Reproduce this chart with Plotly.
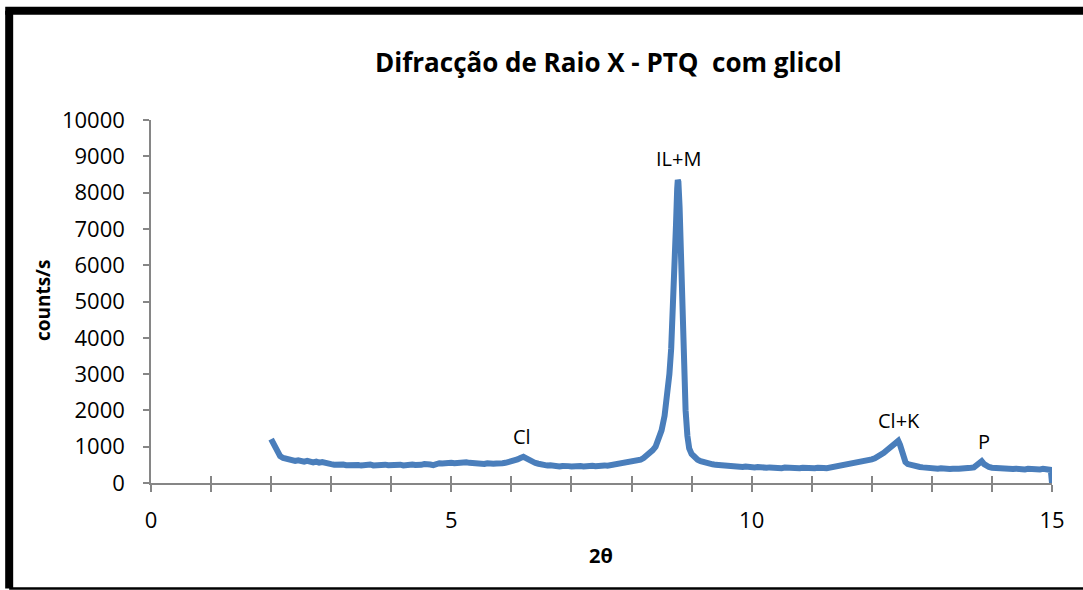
import plotly.graph_objects as go

two_theta = [
    2.00, 2.05, 2.10, 2.15, 2.20, 2.25, 2.30, 2.35, 2.40, 2.45, 2.50, 2.55, 2.60, 2.65, 2.70, 2.75, 2.80, 2.85, 2.90, 2.95,
    3.00, 3.05, 3.10, 3.15, 3.20, 3.25, 3.30, 3.35, 3.40, 3.45, 3.50, 3.55, 3.60, 3.65, 3.70, 3.75, 3.80, 3.85, 3.90, 3.95,
    4.00, 4.05, 4.10, 4.15, 4.20, 4.25, 4.30, 4.35, 4.40, 4.45, 4.50, 4.55, 4.60, 4.65, 4.70, 4.75, 4.80, 4.85, 4.90, 4.95,
    5.00, 5.05, 5.10, 5.15, 5.20, 5.25, 5.30, 5.35, 5.40, 5.45, 5.50, 5.55, 5.60, 5.65, 5.70, 5.75, 5.80, 5.85, 5.90, 5.95,
    6.00, 6.05, 6.10, 6.15, 6.20, 6.25, 6.30, 6.35, 6.40, 6.45, 6.50, 6.55, 6.60, 6.65, 6.70, 6.75, 6.80, 6.85, 6.90, 6.95,
    7.00, 7.05, 7.10, 7.15, 7.20, 7.25, 7.30, 7.35, 7.40, 7.45, 7.50, 7.55, 7.60, 7.65, 7.70, 7.75, 7.80, 7.85, 7.90, 7.95,
    8.00, 8.05, 8.10, 8.15, 8.20, 8.25, 8.30, 8.35, 8.40, 8.45, 8.50, 8.55, 8.60, 8.63, 8.66, 8.69, 8.72, 8.74, 8.76, 8.77,
    8.78, 8.80, 8.82, 8.84, 8.87, 8.90, 8.93, 8.96, 9.00, 9.05, 9.10, 9.15, 9.20, 9.25, 9.30, 9.35, 9.40, 9.45, 9.50, 9.55,
    9.60, 9.65, 9.70, 9.75, 9.80, 9.85, 9.90, 9.95, 10.00, 10.05, 10.10, 10.15, 10.20, 10.25, 10.30, 10.35, 10.40, 10.45,
    10.50, 10.55, 10.60, 10.65, 10.70, 10.75, 10.80, 10.85, 10.90, 10.95, 11.00, 11.05, 11.10, 11.15, 11.20, 11.25, 11.30,
    11.35, 11.40, 11.45, 11.50, 11.55, 11.60, 11.65, 11.70, 11.75, 11.80, 11.85, 11.90, 11.95, 12.00, 12.05, 12.10, 12.15,
    12.20, 12.25, 12.30, 12.35, 12.40, 12.44, 12.47, 12.50, 12.53, 12.56, 12.60, 12.65, 12.70, 12.75, 12.80, 12.85, 12.90,
    12.95, 13.00, 13.05, 13.10, 13.15, 13.20, 13.25, 13.30, 13.35, 13.40, 13.45, 13.50, 13.55, 13.60, 13.65, 13.70, 13.75,
    13.80, 13.83, 13.87, 13.90, 13.95, 14.00, 14.05, 14.10, 14.15, 14.20, 14.25, 14.30, 14.35, 14.40, 14.45, 14.50, 14.55,
    14.60, 14.65, 14.70, 14.75, 14.80, 14.85, 14.90, 14.95, 14.98, 15.00,
]

counts = [
    1210, 1020, 860, 740, 690, 660, 640, 620, 610, 625, 600, 590, 610, 580, 570, 590, 560, 575, 545, 530,
    520, 505, 515, 495, 510, 490, 500, 485, 505, 495, 480, 500, 490, 510, 485, 495, 500, 480, 505, 490,
    500, 480, 495, 505, 485, 500, 490, 510, 495, 480, 500, 520, 495, 510, 490, 530, 545, 535, 550, 540,
    555, 545, 560, 580, 560, 570, 555, 545, 555, 535, 540, 525, 545, 520, 530, 540, 525, 545, 555, 570,
    580, 610, 650, 690, 720, 680, 620, 580, 550, 530, 505, 495, 480, 490, 465, 470, 455, 470, 450, 465,
    455, 470, 450, 465, 455, 470, 460, 475, 465, 480, 470, 485, 475, 490, 495, 505, 500, 520, 530, 545,
    560, 580, 600, 640, 690, 750, 820, 900, 1000, 1200, 1450, 1850, 2500, 3000, 3700, 4700, 6000, 7100, 8100, 8350,
    8300, 7600, 6300, 5000, 3300, 2000, 1300, 950, 800, 700, 640, 600, 570, 545, 530, 515, 500, 490, 475, 480,
    465, 470, 455, 465, 450, 440, 455, 435, 445, 430, 440, 425, 435, 420, 430, 415, 430, 420,
    410, 425, 415, 430, 410, 420, 405, 420, 410, 395, 415, 405, 420, 400, 415, 405, 420,
    430, 440, 450, 465, 475, 490, 505, 520, 535, 550, 570, 595, 620, 650, 680, 720, 770,
    830, 900, 960, 1030, 1100, 1160, 1050, 880, 700, 580, 520, 490, 475, 460, 440, 430, 415,
    420, 405, 410, 395, 405, 390, 400, 385, 395, 380, 390, 400, 395, 410, 420, 430, 480,
    560, 600, 520, 470, 440, 420, 410, 400, 395, 405, 390, 400, 385, 395, 380, 390, 375,
    390, 380, 370, 385, 375, 390, 380, 370, 360, 0,
]

x_tick_vals = list(range(0, 16))
x_tick_text = ["0", "", "", "", "", "5", "", "", "", "", "10", "", "", "", "", "15"]
y_tick_vals = [0, 1000, 2000, 3000, 4000, 5000, 6000, 7000, 8000, 9000, 10000]
y_tick_text = ["0", "1000", "2000", "3000", "4000", "5000", "6000", "7000", "8000", "9000", "10000"]

peak_labels = ["Cl", "IL+M", "Cl+K", "P"]
peak_x = [6.18, 8.78, 12.45, 13.87]
peak_y = [1270, 8950, 1710, 1130]

FONT = "Open Sans, Liberation Sans, sans-serif"
AXIS_GREY = "#868686"

fig = go.Figure()
fig.add_trace(go.Scatter(
    x=two_theta, y=counts, mode="lines",
    line=dict(color="#4a7ebb", width=6),
    showlegend=False, hoverinfo="x+y",
))
# invisible trace on second x-axis to carry inside ticks
fig.add_trace(go.Scatter(x=[0, 15], y=[0, 0], xaxis="x2", mode="lines",
                         line=dict(width=0), showlegend=False, hoverinfo="skip"))

fig.update_layout(
    width=1083, height=590,
    margin=dict(l=151, r=31, t=120, b=107),
    paper_bgcolor="white", plot_bgcolor="white",
    font=dict(family=FONT, size=20, color="black"),
    xaxis=dict(
        range=[0, 15], tickvals=x_tick_vals, ticktext=x_tick_text,
        ticks="outside", ticklen=7, tickwidth=1.5, tickcolor=AXIS_GREY,
        showline=True, linecolor=AXIS_GREY, linewidth=1.5,
        showgrid=False, zeroline=False, ticklabelstandoff=10,
        tickfont=dict(size=22),
    ),
    xaxis2=dict(
        range=[0, 15], tickvals=x_tick_vals, ticktext=[""] * 16,
        ticks="inside", ticklen=7, tickwidth=1.5, tickcolor=AXIS_GREY,
        overlaying="x", anchor="y", side="bottom",
        showline=False, showgrid=False, zeroline=False,
    ),
    yaxis=dict(
        range=[0, 10000], tickvals=y_tick_vals, ticktext=y_tick_text,
        ticks="outside", ticklen=6, tickwidth=1.5, tickcolor=AXIS_GREY,
        showline=True, linecolor=AXIS_GREY, linewidth=1.5,
        showgrid=False, zeroline=False, ticklabelstandoff=14,
        tickfont=dict(size=22),
    ),
    annotations=[
        dict(text="<b>Difracção de Raio X - PTQ  com glicol</b>", xref="paper", yref="paper",
             x=0.508, y=1.16, showarrow=False, font=dict(size=26), xanchor="center", yanchor="middle"),
        dict(text="<b>counts/s</b>", xref="paper", yref="paper", x=-0.1198, y=0.504,
             textangle=-90, showarrow=False, font=dict(size=19), xanchor="center", yanchor="middle"),
        dict(text="<b>2θ</b>", xref="paper", yref="paper", x=0.4994, y=-0.201,
             showarrow=False, font=dict(size=20), xanchor="center", yanchor="middle"),
    ] + [
        dict(text=t, x=px, y=py, xref="x", yref="y", showarrow=False,
             font=dict(size=20), xanchor="center", yanchor="middle")
        for t, px, py in zip(peak_labels, peak_x, peak_y)
    ],
    shapes=[
        dict(type="line", xref="paper", yref="paper", x0=-0.1574, x1=-0.1574, y0=-0.2906, y1=1.3008,
             line=dict(color="black", width=8)),
        dict(type="line", xref="paper", yref="paper", x0=-0.1618, x1=1.06, y0=1.3008, y1=1.3008,
             line=dict(color="black", width=8)),
        dict(type="line", xref="paper", yref="paper", x0=-0.1574, x1=1.06, y0=-0.2906, y1=-0.2906,
             line=dict(color="black", width=2.5)),
    ],
)

fig.write_html("out.html")
